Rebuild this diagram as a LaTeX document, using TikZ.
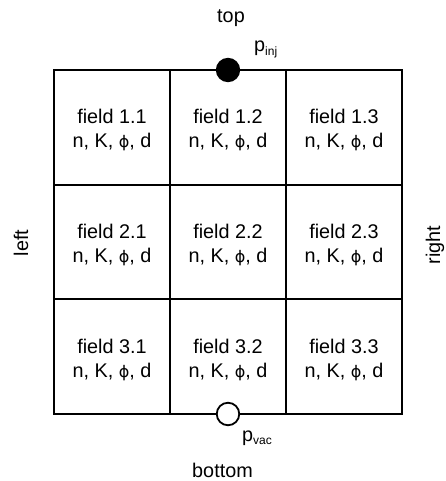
\documentclass[tikz,border=0pt]{standalone}
\usepackage{fontspec}
\setmainfont{Liberation Sans}
\newfontfamily\dejavu{DejaVu Sans}
\newcommand{\myphi}{{\fontsize{16}{16}\dejavu ϕ}}
\begin{document}
\begin{tikzpicture}[x=1pt,y=-1pt,
  cell/.style={draw=black,line width=2pt,minimum width=116pt,minimum height=114.7pt,inner sep=0pt,outer sep=0pt},
  celltext/.style={align=center,inner sep=0pt,font=\fontsize{19.8}{24}\selectfont},
  lab/.style={inner sep=0pt,font=\fontsize{19.8}{24}\selectfont},
  port/.style={circle,draw=black,line width=1.8pt,minimum size=22.5pt,inner sep=0pt}]
\useasboundingbox (0,0) rectangle (445,481);
\foreach \r/\y in {1/127.35,2/242.0,3/356.65}{
  \foreach \c/\x in {1/112.0,2/228.0,3/344.0}{
    \node[cell] (c\r\c) at (\x,\y) {};
    \node[celltext] (t\r\c) at ([yshift=-3pt]c\r\c.center) {field \r.\c\\n, K, \myphi, d};
  }
}
\node[port,fill=black] (inj) at (c12.north) {};
\node[port,fill=white] (vac) at (c32.south) {};
\node[lab,anchor=base] (top) at (231,23) {top};
\node[lab,anchor=base west] (pinj) at (254,52) {p\textsubscript{\fontsize{12}{12}\selectfont inj}};
\node[lab,anchor=base west] (pvac) at (242,441) {p\textsubscript{\fontsize{12}{12}\selectfont vac}};
\node[lab,anchor=base] (bottom) at (222.5,477) {bottom};
\node[lab,rotate=90] (left) at (21,243) {left};
\node[lab,rotate=90] (right) at (435,245) {right};
\end{tikzpicture}
\end{document}
